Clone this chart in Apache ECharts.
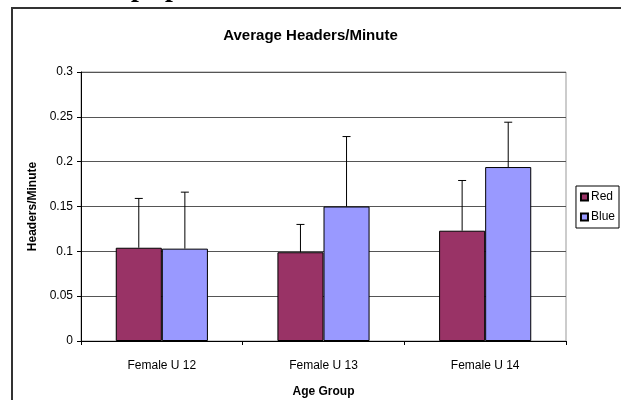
<!DOCTYPE html>
<html>
<head>
<meta charset="utf-8">
<script src="https://cdn.jsdelivr.net/npm/echarts@6/dist/echarts.min.js"></script>
<style>
html,body{margin:0;padding:0;background:#fff;}
#c{width:621px;height:400px;}
</style>
</head>
<body>
<div id="c"></div>
<script>
const categories = ['Female U 12', 'Female U 13', 'Female U 14'];
const redValues = [0.104, 0.099, 0.123];
const blueValues = [0.103, 0.150, 0.194];
const redErrors = [0.055, 0.031, 0.056];
const blueErrors = [0.063, 0.078, 0.050];
const yTicks = [0, 0.05, 0.1, 0.15, 0.2, 0.25, 0.3];

const CAT_GAP = 0.43;

function errSeries(name, values, errs, side) {
  return {
    type: 'custom',
    name: name + ' err',
    z: 5,
    silent: true,
    data: values.map((v, i) => [i, v, errs[i]]),
    renderItem: function (params, api) {
      const cat = api.value(0), v = api.value(1), e = api.value(2);
      const p0 = api.coord([cat, v]);
      const p1 = api.coord([cat, v + e]);
      const band = api.size([1, 0])[0];
      const bw = band * (1 - CAT_GAP) / 2;
      const x = p0[0] + side * bw / 2;
      const style = { stroke: '#000', lineWidth: 1 };
      return {
        type: 'group',
        children: [
          { type: 'line', shape: { x1: x, y1: p0[1], x2: x, y2: p1[1] }, style: style },
          { type: 'line', shape: { x1: x - 4, y1: p1[1], x2: x + 4, y2: p1[1] }, style: style }
        ]
      };
    }
  };
}

const chart = echarts.init(document.getElementById('c'), null, { renderer: 'canvas' });
chart.setOption({
  animation: false,
  backgroundColor: '#fff',
  textStyle: { fontFamily: 'Liberation Sans, Arial, sans-serif' },
  title: {
    text: 'Average Headers/Minute',
    left: 'center',
    top: 28,
    padding: 0,
    textStyle: { fontSize: 15, fontWeight: 'bold', color: '#000', fontFamily: 'Liberation Sans, Arial, sans-serif' }
  },
  legend: {
    orient: 'vertical',
    right: 2,
    top: 186,
    data: ['Red', 'Blue'],
    icon: 'rect',
    itemWidth: 7,
    itemHeight: 7,
    itemGap: 8,
    padding: [5, 4, 5, 4],
    borderColor: '#000',
    borderWidth: 1,
    borderRadius: 0,
    textStyle: { fontSize: 12, color: '#000', padding: [0, 0, 0, -2] }
  },
  grid: {
    left: 81, right: 55, top: 72, bottom: 59,
    outerBoundsMode: 'none',
    containLabel: false,
    show: true, borderColor: '#999', borderWidth: 1
  },
  xAxis: {
    type: 'category',
    data: categories,
    name: 'Age Group',
    nameLocation: 'middle',
    nameGap: 45,
    nameTextStyle: { fontSize: 12, fontWeight: 'bold', color: '#000' },
    axisLine: { lineStyle: { color: '#000', width: 1 } },
    axisTick: { show: true, length: 4, lineStyle: { color: '#000' } },
    axisLabel: { fontSize: 12, color: '#000', margin: 19 },
    splitLine: { show: false }
  },
  yAxis: {
    type: 'value',
    min: yTicks[0],
    max: yTicks[yTicks.length - 1],
    interval: yTicks[1] - yTicks[0],
    name: 'Headers/Minute',
    nameLocation: 'middle',
    nameGap: 41,
    nameTextStyle: { fontSize: 12, fontWeight: 'bold', color: '#000' },
    axisLine: { show: true, lineStyle: { color: '#000', width: 1 } },
    axisTick: { show: true, length: 4, lineStyle: { color: '#000' } },
    axisLabel: { fontSize: 12, color: '#000', margin: 8, formatter: v => String(+v.toFixed(2)) },
    splitLine: { show: true, lineStyle: { color: '#555', width: 1 } }
  },
  graphic: [
    { type: 'rect', shape: { x: 12, y: 8, width: 800, height: 600 }, style: { fill: 'none', stroke: '#333', lineWidth: 2 }, z: 100 },
    { type: 'text', x: 131, y: 3, style: { text: 'p', font: 'bold 28px Liberation Serif', fill: '#000', verticalAlign: 'bottom' } },
    { type: 'text', x: 165, y: 3, style: { text: 'p', font: 'bold 28px Liberation Serif', fill: '#000', verticalAlign: 'bottom' } }
  ],
  series: [
    {
      name: 'Red', type: 'bar', data: redValues,
      barGap: '0%', barCategoryGap: (CAT_GAP * 100) + '%',
      itemStyle: { color: '#993366', borderColor: '#000', borderWidth: 1 }
    },
    {
      name: 'Blue', type: 'bar', data: blueValues,
      barGap: '0%', barCategoryGap: (CAT_GAP * 100) + '%',
      itemStyle: { color: '#9999FF', borderColor: '#000', borderWidth: 1 }
    },
    errSeries('Red', redValues, redErrors, -1),
    errSeries('Blue', blueValues, blueErrors, 1)
  ]
});
</script>
</body>
</html>
